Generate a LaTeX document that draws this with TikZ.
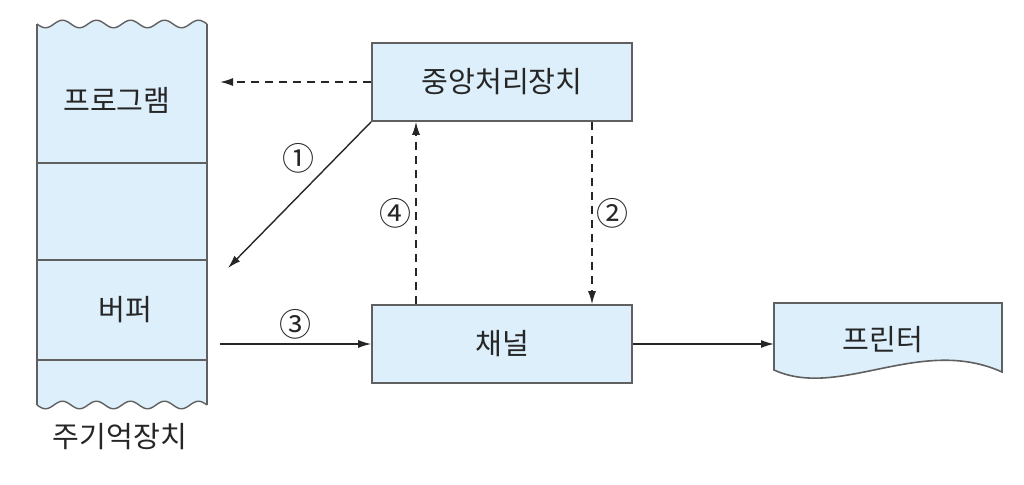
\documentclass[tikz,border=0pt]{standalone}
\usepackage{fontspec}
\setmainfont{Noto Sans CJK KR}
\usepackage{xcolor}
\usetikzlibrary{arrows.meta,positioning}
\definecolor{boxblue}{HTML}{DDEFFA}
\definecolor{edge}{HTML}{606060}

\begin{document}
\begin{tikzpicture}[x=0.5pt,y=-0.5pt,
  unit/.style={draw=edge, fill=boxblue, line width=0.8pt,
               minimum width=130pt, minimum height=39pt,
               font=\fontsize{14.6}{16}\selectfont, text=black!85},
  lbl/.style={font=\fontsize{14.6}{16}\selectfont, text=black!85},
  num/.style={font=\fontsize{16}{18}\selectfont, text=black!85, inner sep=2pt},
  flow/.style={-{Latex[length=6.5pt,width=4pt]}, line width=0.7pt, black!85},
  ctrl/.style={flow, dash pattern=on 4pt off 3pt}
]
  \useasboundingbox (0,0) rectangle (1024,485);

  % main memory column
  \fill[boxblue] plot[domain=37:207,samples=80] (\x,{24+3.8*sin((\x-37)*10.588)})
    -- plot[domain=207:37,samples=80] (\x,{405+3.8*sin((\x-37)*10.588)}) -- cycle;
  \draw[edge, line width=0.7pt] plot[domain=37:207,samples=80] (\x,{24+3.8*sin((\x-37)*10.588)});
  \draw[edge, line width=0.7pt] plot[domain=37:207,samples=80] (\x,{405+3.8*sin((\x-37)*10.588)});
  \draw[edge, line width=0.7pt] (37,24) -- (37,405) (207,24) -- (207,405);
  \foreach \y in {163,260,360}
    \draw[edge, line width=0.6pt] (37,\y) -- (207,\y);

  \node[lbl] (prog) at (117,100) {프로그램};
  \node[lbl] (buf) at (125,310) {버퍼};
  \node[lbl] (mem) at (120,437) {주기억장치};
  \coordinate (progIn) at (220,82);
  \coordinate (bufIn) at (228,268);
  \coordinate (bufOut) at (220,344);

  % processor and channel
  \node[unit] (cpu) at (502,82) {중앙처리장치};
  \node[unit] (chan) at (502,344) {채널};

  % printer
  \filldraw[fill=boxblue, draw=edge, line width=0.8pt]
    (774,303) -- (1002,303) -- (1002,372)
    .. controls (920,335) and (840,400) .. (774,370) -- cycle;
  \node[lbl] (prt) at (883,340) {프린터};
  \coordinate (prtIn) at (774,344);

  \draw[ctrl] (cpu.west) -- (progIn);
  \draw[flow] (cpu.south west) -- node[num, pos=0.25, left=8pt] {①} (bufIn);
  \draw[ctrl] ([xshift=45pt]cpu.south) -- node[num, right] {②} ([xshift=45pt]chan.north);
  \draw[flow] (bufOut) -- node[num, above] {③} (chan.west);
  \draw[ctrl] ([xshift=-43pt]chan.north) -- node[num, left] {④} ([xshift=-43pt]cpu.south);
  \draw[flow] (chan.east) -- (prtIn);
\end{tikzpicture}
\end{document}
